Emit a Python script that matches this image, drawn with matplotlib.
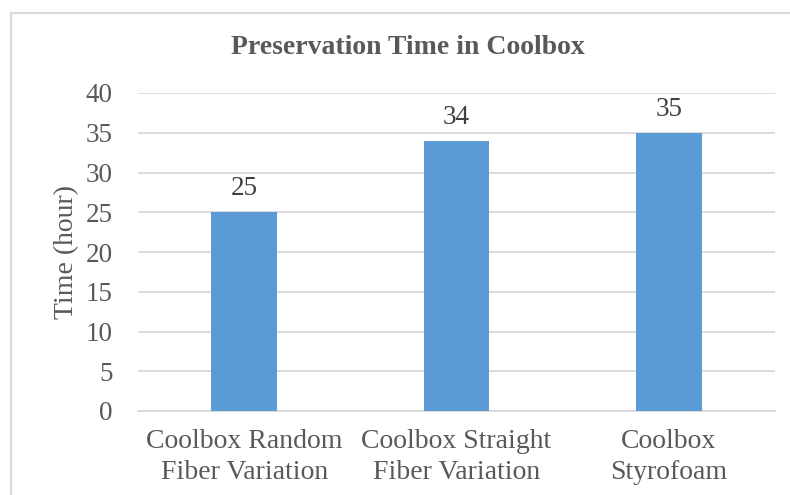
import matplotlib
matplotlib.use("Agg")
import matplotlib.pyplot as plt
from matplotlib.lines import Line2D

categories = ["Coolbox Random\nFiber Variation", "Coolbox Straight\nFiber Variation", "Coolbox\nStyrofoam"]
values = [25, 34, 35]
yticks = [0, 5, 10, 15, 20, 25, 30, 35, 40]

plt.rcParams['font.family'] = ['Liberation Serif', 'DejaVu Serif']
txt = '#595959'
grid = '#D9D9D9'
bar_color = '#5B9BD5'

fig = plt.figure(figsize=(7.9, 4.95), dpi=100)
ax = fig.add_axes([138/790, 1-411/495, (775-138)/790, (411-93)/495])

x = list(range(len(categories)))
bars = ax.bar(x, values, width=0.31, color=bar_color, zorder=3)
ax.bar_label(bars, labels=[str(v) for v in values], padding=8, fontsize=19.5, color='#404040')

ax.set_xlim(-0.5, len(categories) - 0.5)
ax.set_ylim(0, 40)
ax.set_yticks(yticks)
ax.set_yticklabels([str(t) for t in yticks], fontsize=19.5, color=txt)
ax.set_xticks(x)
ax.set_xticklabels(categories, fontsize=20, color=txt, linespacing=1.3)
ax.tick_params(axis='y', length=0, pad=18)
ax.tick_params(axis='x', length=0, pad=13)
ax.yaxis.grid(True, color=grid, linewidth=1.3, zorder=0)
for s in ['top', 'right', 'left']:
    ax.spines[s].set_visible(False)
ax.spines['bottom'].set_color(grid)
ax.spines['bottom'].set_linewidth(1.3)

ax.set_ylabel("Time (hour)", fontsize=20, color=txt, labelpad=5)

fig.text(408/790, 1-48/495, "Preservation Time in Coolbox", ha='center', va='center',
         fontsize=20, fontweight='bold', color=txt)

# chart border (left and top visible)
bx = 11/790
by = 1-13/495
fig.add_artist(Line2D([bx, bx], [0, by], transform=fig.transFigure, color='#D9D9D9', linewidth=1.5))
fig.add_artist(Line2D([bx, 1], [by, by], transform=fig.transFigure, color='#D9D9D9', linewidth=1.5))

fig.savefig("out.png", dpi=100)
